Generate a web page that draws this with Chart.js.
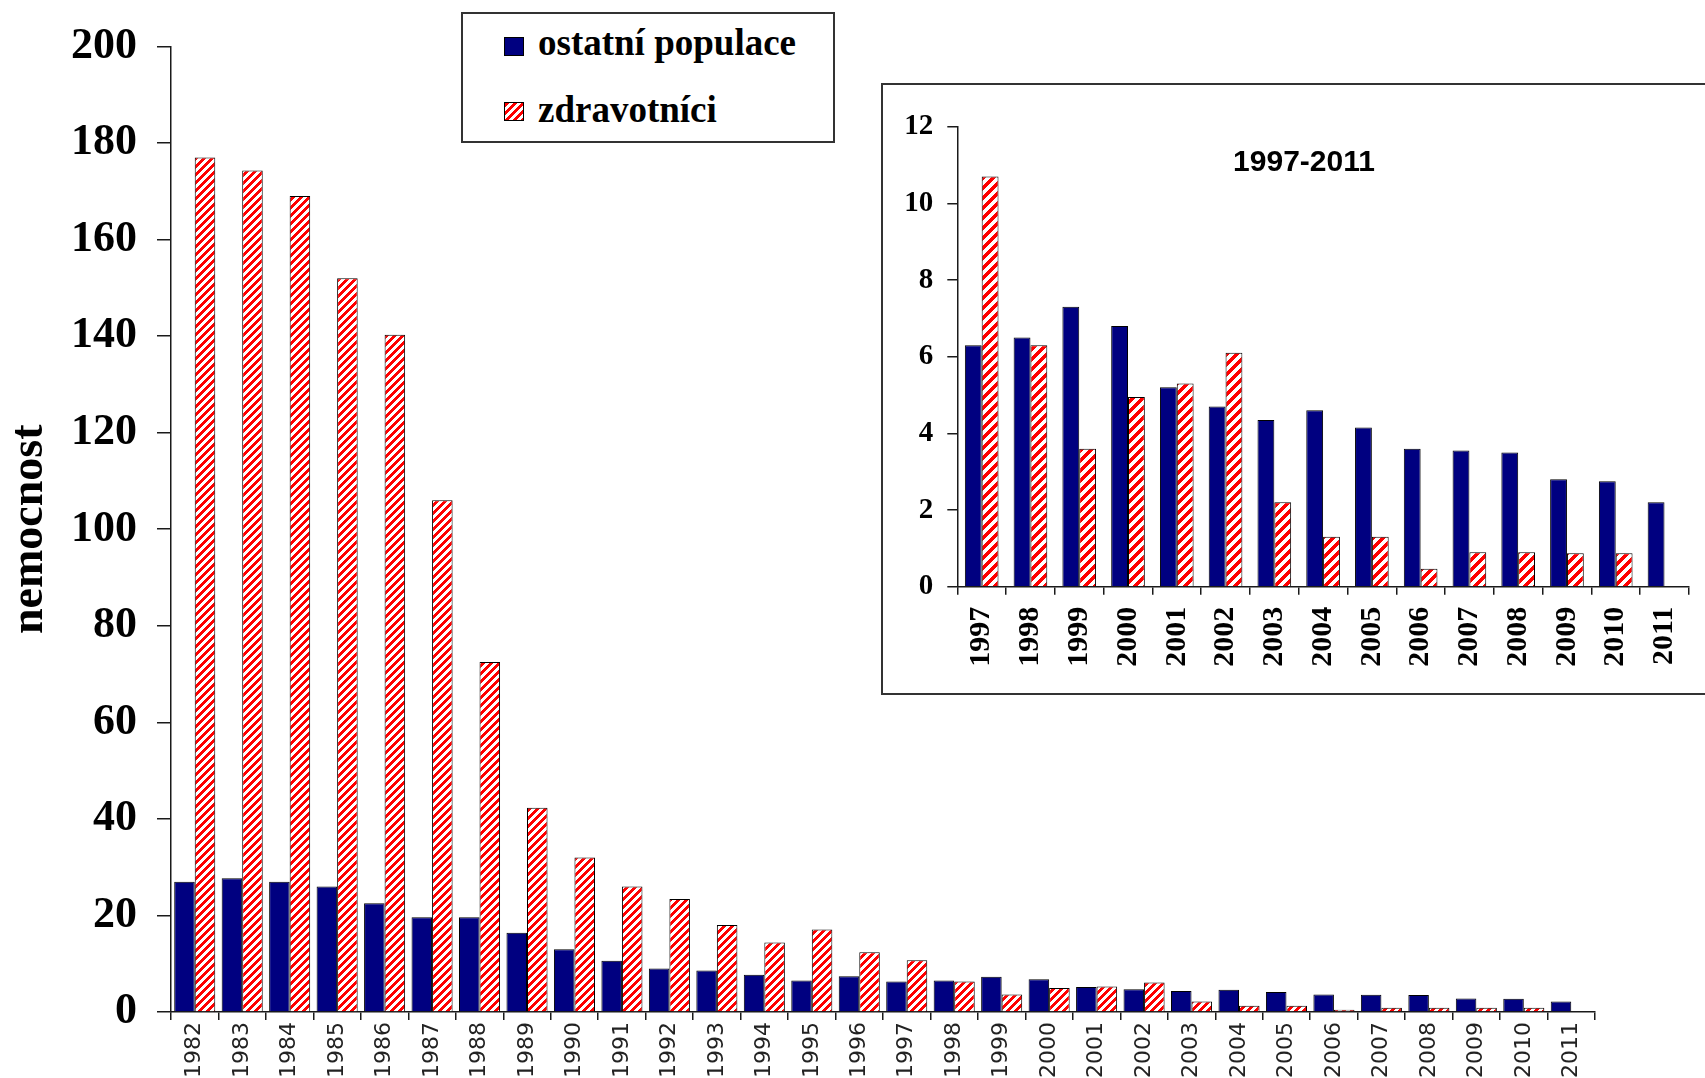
<!DOCTYPE html>
<html>
<head>
<meta charset="utf-8">
<title>nemocnost</title>
<script src="https://cdn.jsdelivr.net/npm/chart.js@4/dist/chart.umd.min.js"></script>
<style>
  html, body { margin: 0; padding: 0; background: #fff; }
  body { position: relative; width: 1705px; height: 1078px; overflow: hidden; }
  #main { position: absolute; left: 0; top: 0; }
  #legend {
    position: absolute; left: 461px; top: 12px; width: 370px; height: 127px;
    border: 2px solid #333; background: #fff;
  }
  #legend .sw { position: absolute; left: 41px; width: 18px; height: 17px; border: 1px solid #000; }
  #legend .txt {
    position: absolute; left: 75px; white-space: nowrap;
    font: bold 37px/37px "Liberation Serif", "Times New Roman", serif; color: #000;
  }
  #insetBox {
    position: absolute; left: 881px; top: 83px; width: 840px; height: 608px;
    border: 2px solid #333; background: #fff;
  }
  #inset { position: absolute; left: 0; top: 0; }
  #insetTitle {
    position: absolute; left: 1154px; top: 146px; width: 300px; text-align: center;
    font: bold 30px/30px "Liberation Sans", Arial, sans-serif; color: #000;
  }
</style>
</head>
<body>
<canvas id="main" width="1705" height="1078"></canvas>
<div id="legend"></div>
<div id="insetBox"><canvas id="inset" width="830" height="608"></canvas></div>
<div id="insetTitle">1997-2011</div>
<script>
// Years on the category axis
const years = ['1982', '1983', '1984', '1985', '1986', '1987', '1988', '1989', '1990', '1991',
  '1992', '1993', '1994', '1995', '1996', '1997', '1998', '1999', '2000', '2001',
  '2002', '2003', '2004', '2005', '2006', '2007', '2008', '2009', '2010', '2011'];

// Series names
const seriesNames = ['ostatní populace', 'zdravotníci'];

// Incidence, general population
const ostatniPopulace = [27.0, 27.7, 27.0, 26.0, 22.5, 19.6, 19.6, 16.4, 13.0, 10.6,
  9.0, 8.6, 7.7, 6.5, 7.4, 6.3, 6.5, 7.3, 6.8, 5.2,
  4.7, 4.35, 4.6, 4.15, 3.6, 3.55, 3.5, 2.8, 2.75, 2.2];

// Incidence, health-care workers
const zdravotnici = [177.0, 174.3, 169.0, 152.0, 140.3, 106.0, 72.5, 42.3, 32.0, 26.0,
  23.4, 18.0, 14.4, 17.1, 12.4, 10.7, 6.3, 3.6, 4.95, 5.3,
  6.1, 2.2, 1.3, 1.3, 0.47, 0.9, 0.9, 0.87, 0.87, null];

// Y tick values
const mainTicks = [0, 20, 40, 60, 80, 100, 120, 140, 160, 180, 200];
const insetTicks = [0, 2, 4, 6, 8, 10, 12];

// Detail panel covers 1997-2011
const insetStart = years.indexOf('1997');
const insetYears = years.slice(insetStart);
const insetOstatni = ostatniPopulace.slice(insetStart);
const insetZdrav = zdravotnici.slice(insetStart);

const NAVY = '#000080';
const LINE = '#1a1a1a';
const SERIF = '"Liberation Serif", "Times New Roman", serif';

// Red upward-diagonal hatch on white, with the given stripe period
function makeHatch(p) {
  const c = document.createElement('canvas');
  c.width = p; c.height = p;
  const g = c.getContext('2d');
  const img = g.createImageData(p, p);
  for (let y = 0; y < p; y++) {
    for (let x = 0; x < p; x++) {
      const red = ((x + y) % p) < p / 2;
      const i = (y * p + x) * 4;
      img.data[i] = 255;
      img.data[i + 1] = red ? 0 : 255;
      img.data[i + 2] = red ? 0 : 255;
      img.data[i + 3] = 255;
    }
  }
  g.putImageData(img, 0, 0);
  return c;
}
const hatchCanvas = makeHatch(8);
const hatchCanvasInset = makeHatch(10);
const hatch = document.getElementById('main').getContext('2d').createPattern(hatchCanvas, 'repeat');
const hatchInset = document.getElementById('inset').getContext('2d').createPattern(hatchCanvasInset, 'repeat');

// Legend
(function buildLegend() {
  const box = document.getElementById('legend');
  const swTops = [23, 88];
  const txtTops = [10, 76.5];
  const fills = ['background:' + NAVY, 'background-image:url(' + hatchCanvas.toDataURL() + ')'];
  seriesNames.forEach((name, i) => {
    const sw = document.createElement('div');
    sw.className = 'sw';
    sw.style.cssText = 'top:' + swTops[i] + 'px;' + fills[i];
    box.appendChild(sw);
    const t = document.createElement('div');
    t.className = 'txt';
    t.style.top = txtTops[i] + 'px';
    t.textContent = name;
    box.appendChild(t);
  });
})();

Chart.defaults.animation = false;
Chart.defaults.plugins.legend.display = false;
Chart.defaults.plugins.tooltip.enabled = false;
Chart.defaults.color = '#000';

function barSets(a, b, pat, cp) {
  return [
    { label: seriesNames[0], data: a, backgroundColor: NAVY, borderColor: '#000', borderWidth: 1,
      categoryPercentage: cp, barPercentage: 1.0 },
    { label: seriesNames[1], data: b, backgroundColor: pat, borderColor: '#000', borderWidth: 1,
      categoryPercentage: cp, barPercentage: 1.0 }
  ];
}

// Main chart 1982-2011
new Chart(document.getElementById('main'), {
  type: 'bar',
  data: { labels: years, datasets: barSets(ostatniPopulace, zdravotnici, hatch, 0.865) },
  options: {
    responsive: false,
    devicePixelRatio: 1,
    layout: { padding: { left: 0, top: 44, right: 110, bottom: 0 } },
    scales: {
      x: {
        grid: { display: true, drawOnChartArea: false, drawTicks: true, tickLength: 8, color: LINE, lineWidth: 1.5, offset: true },
        border: { display: true, color: LINE, width: 1.5 },
        ticks: { autoSkip: false, minRotation: 90, maxRotation: 90, padding: 2, color: '#222',
          font: { family: '"DejaVu Sans", Verdana, sans-serif', size: 22 } },
        afterFit: s => { s.height = 66; }
      },
      y: {
        min: mainTicks[0], max: mainTicks[mainTicks.length - 1],
        afterBuildTicks: s => { s.ticks = mainTicks.map(v => ({ value: v })); },
        grid: { display: true, drawOnChartArea: false, drawTicks: true, tickLength: 14, color: LINE, lineWidth: 1.5 },
        border: { display: true, color: LINE, width: 1.5 },
        ticks: { padding: 20, font: { family: SERIF, size: 44, weight: 'bold' } },
        title: { display: true, text: 'nemocnost', padding: { top: 3, bottom: 0 },
          font: { family: SERIF, size: 46, weight: 'bold' } },
        afterFit: s => { s.width = 171; }
      }
    }
  }
});

// Detail chart 1997-2011
new Chart(document.getElementById('inset'), {
  type: 'bar',
  data: { labels: insetYears, datasets: barSets(insetOstatni, insetZdrav, hatchInset, 0.69) },
  options: {
    responsive: false,
    devicePixelRatio: 1,
    layout: { padding: { left: 0, top: 41.7, right: 15, bottom: 0 } },
    scales: {
      x: {
        grid: { display: true, drawOnChartArea: false, drawTicks: true, tickLength: 8, color: LINE, lineWidth: 1.5, offset: true },
        border: { display: true, color: LINE, width: 1.5 },
        ticks: { autoSkip: false, minRotation: 90, maxRotation: 90, padding: 12,
          font: { family: SERIF, size: 30, weight: 'bold' } },
        afterFit: s => { s.height = 106.3; }
      },
      y: {
        min: insetTicks[0], max: insetTicks[insetTicks.length - 1],
        afterBuildTicks: s => { s.ticks = insetTicks.map(v => ({ value: v })); },
        grid: { display: true, drawOnChartArea: false, drawTicks: true, tickLength: 10, color: LINE, lineWidth: 1.5 },
        border: { display: true, color: LINE, width: 1.5 },
        ticks: { padding: 14, font: { family: SERIF, size: 29, weight: 'bold' } },
        afterFit: s => { s.width = 74.3; }
      }
    }
  }
});
</script>
</body>
</html>
